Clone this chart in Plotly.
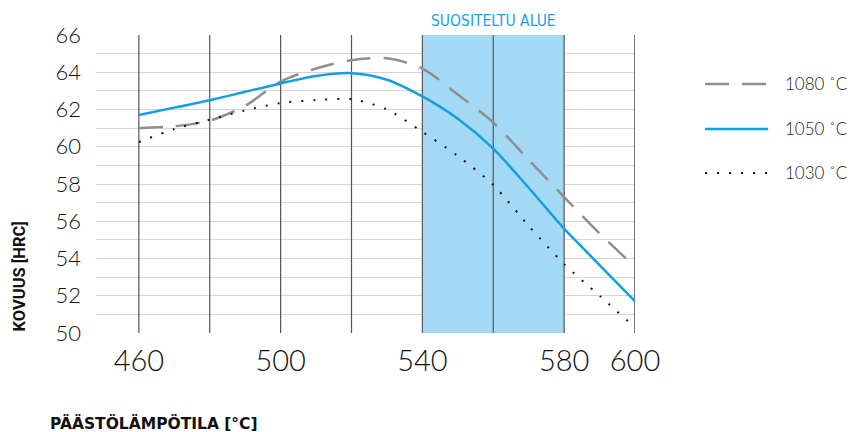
import plotly.graph_objects as go

temps = [460, 470, 480, 490, 500, 510, 520, 530, 540, 550, 560, 570, 580, 590, 600]
h1080 = [61.0, 61.1, 61.4, 62.2, 63.5, 64.2, 64.65, 64.75, 64.2, 62.8, 61.3, 59.3, 57.3, 55.35, 53.55]
h1050 = [61.7, 62.1, 62.5, 62.95, 63.4, 63.8, 63.95, 63.6, 62.7, 61.5, 59.9, 57.8, 55.6, 53.65, 51.7]
h1030 = [60.25, 60.95, 61.45, 61.95, 62.35, 62.5, 62.55, 62.0, 60.8, 59.5, 57.95, 55.75, 53.7, 52.0, 50.3]

series_names = ["1080 ˚C", "1050 ˚C", "1030 ˚C"]
x_ticks = [460, 500, 540, 580, 600]
y_ticks = [50, 52, 54, 56, 58, 60, 62, 64, 66]
v_lines = [460, 480, 500, 520, 540, 560, 580]
zone = [540, 580]
zone_label = "SUOSITELTU ALUE"

BLUE = "#139fdf"
GRAY = "#8f8f8f"
styles = [
    dict(color=GRAY, width=2.5, dash="24px,13px"),
    dict(color=BLUE, width=2.5, dash="solid"),
    dict(color="#111111", width=2, dash="2px,10px"),
]

fig = go.Figure()
for name, ys, st in zip(series_names, [h1080, h1050, h1030], styles):
    fig.add_trace(go.Scatter(x=temps, y=ys, mode="lines", name=name,
                             line=dict(shape="spline", smoothing=0.8, **st),
                             showlegend=False, hoverinfo="skip"))

shapes = []
# recommended zone
shapes.append(dict(type="rect", xref="x", yref="y", x0=zone[0], x1=zone[1], y0=50, y1=66,
                   fillcolor="#a3d9f5", line=dict(width=0), layer="between"))
for xv in v_lines:
    shapes.append(dict(type="line", xref="x", yref="y", x0=xv, x1=xv, y0=50, y1=66,
                       line=dict(color="#555555", width=1.2), layer="between"))
# right edge
shapes.append(dict(type="line", xref="x", yref="y", x0=600, x1=600, y0=50, y1=66,
                   line=dict(color="#777777", width=2), layer="between"))

# custom legend
leg_y = [0.8356, 0.6846, 0.537]
annotations = []
for name, st, ly in zip(series_names, styles, leg_y):
    shapes.append(dict(type="line", xref="paper", yref="paper", x0=1.130, x1=1.247, y0=ly, y1=ly,
                       line=dict(color=st["color"], width=st["width"], dash=st["dash"])))
    annotations.append(dict(xref="paper", yref="paper", x=1.2746, y=ly, text=name, showarrow=False,
                            xanchor="left", yanchor="middle",
                            font=dict(family="Lato, Open Sans, sans-serif", size=17, color="#222222", weight=300)))

annotations.append(dict(xref="x", yref="paper", x=(zone[0] + zone[1]) / 2, y=1.0, yshift=3,
                        text=zone_label, showarrow=False, xanchor="center", yanchor="bottom",
                        font=dict(family="Liberation Sans Narrow, DejaVu Sans Condensed, sans-serif",
                                  size=15.5, color="#1ba0e2")))
annotations.append(dict(xref="paper", yref="paper", x=-0.142, y=0.0, text="<b>KOVUUS [HRC]</b>",
                        textangle=-90, showarrow=False, xanchor="center", yanchor="bottom",
                        font=dict(family="Roboto, sans-serif", size=16.5, color="#111111")))
annotations.append(dict(xref="paper", yref="paper", x=-0.089, y=-0.305, text="<b>PÄÄSTÖLÄMPÖTILA [°C]</b>",
                        showarrow=False, xanchor="left", yanchor="middle",
                        font=dict(family="DejaVu Sans, sans-serif", size=15.5, color="#111111")))

fig.update_layout(
    width=851, height=432,
    margin=dict(l=96, r=216, t=35, b=99),
    paper_bgcolor="white", plot_bgcolor="white",
    shapes=shapes, annotations=annotations,
    showlegend=False,
)
fig.update_xaxes(range=[447.9, 600], tickvals=x_ticks, ticktext=[str(v) for v in x_ticks],
                 showgrid=False, zeroline=False, showline=False, ticks="",
                 tickfont=dict(family="Lato, Open Sans, sans-serif", size=29, color="#111111", weight=300),
                 ticklabelstandoff=8)
fig.update_yaxes(range=[50, 66], tickvals=y_ticks, showgrid=True, gridcolor="#d4d4d4", gridwidth=1,
                 minor=dict(dtick=1, showgrid=True, gridcolor="#d9d9d9", gridwidth=1),
                 zeroline=False, showline=False, ticks="",
                 tickfont=dict(family="Lato, Open Sans, sans-serif", size=22, color="#111111", weight=300),
                 ticklabelstandoff=14)

# remove the default 8px page margin so the 851x432 figure fills the window exactly
fig.write_html("out.html", config={"displayModeBar": False},
               post_script="document.body.style.margin='0';document.body.style.overflow='hidden';")
